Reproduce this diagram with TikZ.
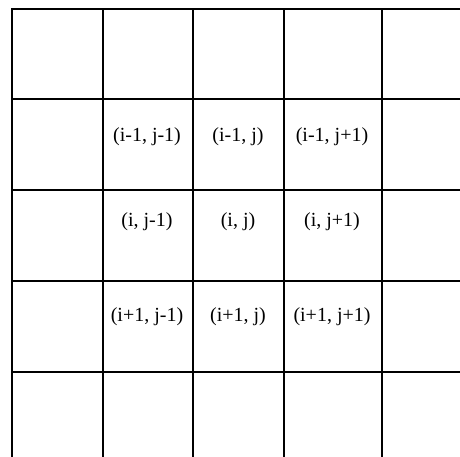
\documentclass[tikz,border=0pt]{standalone}
\usepackage{fontspec}
\setmainfont{Liberation Serif}

\begin{document}
\begin{tikzpicture}[
    x=1pt, y=-1pt,
    gridline/.style={line width=1.8pt, line cap=rect},
    cell/.style={font=\fontsize{20}{24}\selectfont, inner sep=0pt},
]
\useasboundingbox (0,0) rectangle (460,456);

% grid rows and columns
\foreach \y in {9,99,190,281,372} {
    \draw[gridline] (12,\y) -- (460,\y);
}
\foreach \x in {12,103,193,284,382} {
    \draw[gridline] (\x,9) -- (\x,456);
}

% neighbourhood labels
\foreach \r/\ypos/\i in {0/137/i-1, 1/222/i, 2/317/i+1} {
    \foreach \c/\xpos/\j in {0/147/j-1, 1/238/j, 2/332/j+1} {
        \node[cell] (n_\r_\c) at (\xpos,\ypos) {(\i, \j)};
    }
}

\end{tikzpicture}
\end{document}
